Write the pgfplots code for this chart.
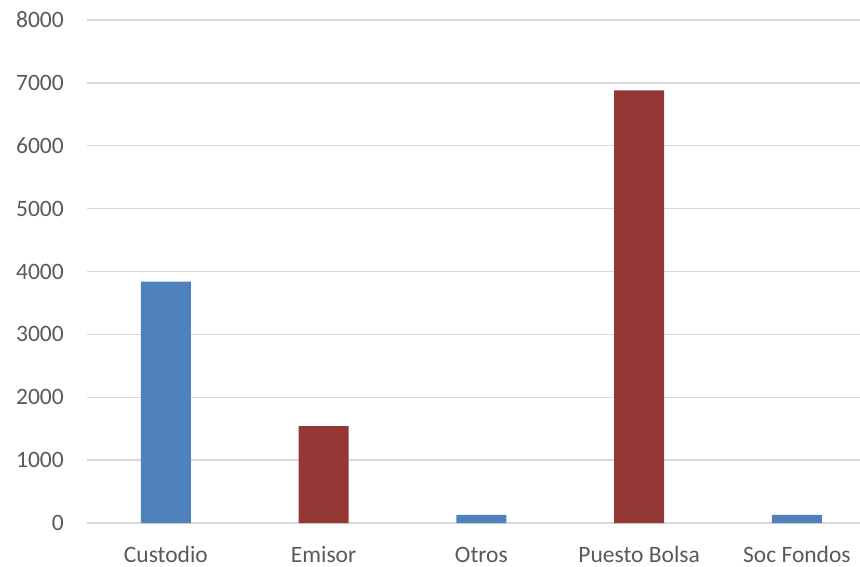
\documentclass[border=0pt]{standalone}
\usepackage{fontspec}
\setmainfont{Carlito}
\usepackage{pgfplots}
\pgfplotsset{compat=1.18}

\definecolor{barblue}{HTML}{4F81BD}
\definecolor{barred}{HTML}{953735}
\definecolor{gridgray}{HTML}{D9D9D9}
\definecolor{txtgray}{HTML}{595959}

\begin{document}
\fontsize{23.5bp}{28bp}\selectfont
\begin{tikzpicture}
\begin{axis}[
    at={(0,0)}, anchor=south west,
    scale only axis,
    width=773bp, height=503bp,
    xmin=-0.5, xmax=4.40,
    ymin=0, ymax=8000,
    ybar, bar width=50bp, bar shift=0pt,
    axis line style={draw=none},
    major tick length=0pt,
    xtick={0,1,2,3,4},
    xticklabels={Custodio,Emisor,Otros,Puesto Bolsa,Soc Fondos},
    ytick={0,1000,...,8000},
    ymajorgrids,
    grid style={gridgray, line width=1.5bp},
    xticklabel style={anchor=base, inner sep=0pt, yshift=-39bp, text=txtgray},
    yticklabel style={anchor=east, inner sep=0pt, xshift=-23bp, text=txtgray},
    /pgf/number format/assume math mode=true,
    /pgf/number format/1000 sep={},
    clip=false,
]
\addplot[fill=barblue, draw=none] coordinates {(0,3840) (2,130) (4,130)};
\addplot[fill=barred, draw=none] coordinates {(1,1540) (3,6880)};
\end{axis}
\pgfresetboundingbox
\path[use as bounding box] (-87bp,-44bp) rectangle (773bp,523bp);
\end{tikzpicture}
\end{document}
